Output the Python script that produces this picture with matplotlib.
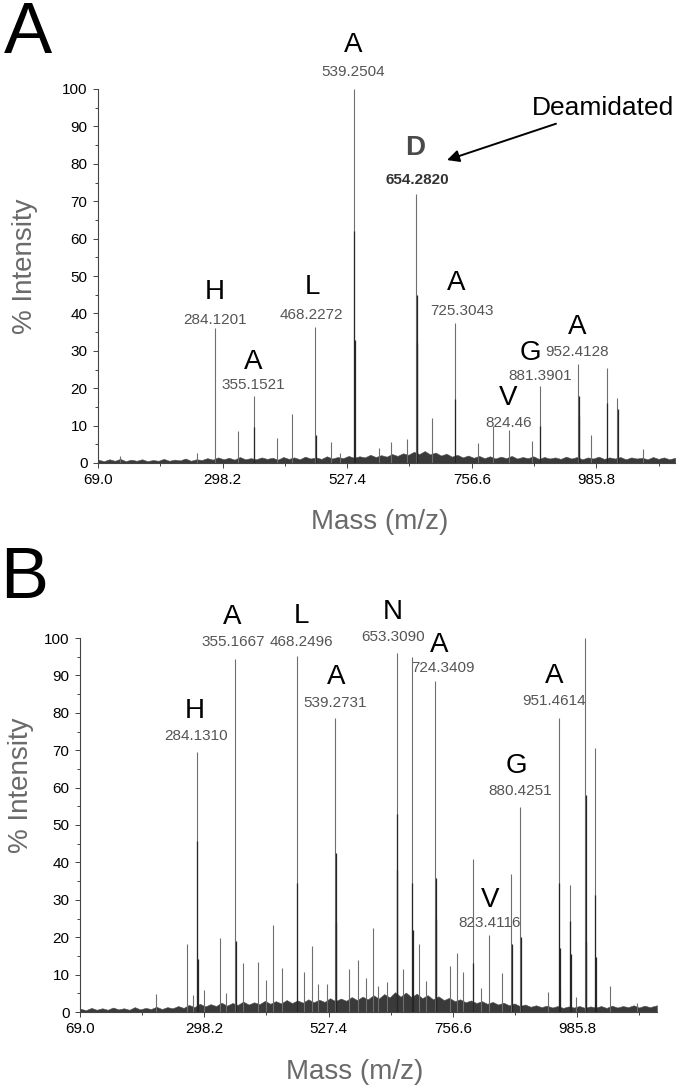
import matplotlib
matplotlib.use('Agg')
import matplotlib.pyplot as plt
from matplotlib.ticker import FixedLocator, MultipleLocator

# ---- panel A data (m/z, % intensity) ----
a_label_mz = [284.1201, 355.1521, 468.2272, 539.2504, 654.2820, 725.3043, 824.46, 881.3901, 952.4128]
a_label_int = [36, 18, 36.4, 100, 72, 37.4, 8.7, 20.5, 26.6]
a_label_res = ['H', 'A', 'L', 'A', 'D', 'A', 'V', 'G', 'A']
a_other_mz = [109, 252, 326.5, 398, 426, 497.6, 515, 585, 608, 637, 683, 768, 796, 867, 976, 1005, 1024, 1071]
a_other_int = [2.0, 2.6, 8.5, 6.8, 13, 5.6, 2.8, 4.0, 5.5, 6.5, 12, 5.3, 10, 5.8, 7.4, 25.5, 17.4, 3.8]
a_iso_mz = [356.2, 469.2, 540.3, 541.3, 655.3, 656.3, 726.3, 882.4, 953.4, 954.4, 1006, 1025]
a_iso_int = [9.5, 7.5, 62, 33, 45, 32, 17, 10, 18, 12.5, 16, 14.5]
a_noise_mz = [69, 80, 90, 100, 110, 120, 130, 140, 150, 160, 170, 180, 190, 200, 210, 220, 230, 240, 250,
              260, 270, 280, 290, 300, 310, 320, 330, 340, 350, 360, 370, 380, 390, 400, 410, 420, 430,
              440, 450, 460, 470, 480, 490, 500, 510, 520, 530, 540, 550, 560, 570, 580, 590, 600, 610,
              620, 630, 640, 650, 660, 670, 680, 690, 700, 710, 720, 730, 740, 750, 760, 770, 780, 790,
              800, 810, 820, 830, 840, 850, 860, 870, 880, 890, 900, 910, 920, 930, 940, 950, 960, 970,
              980, 990, 1000, 1010, 1020, 1030, 1040, 1050, 1060, 1070, 1080, 1090, 1100, 1110, 1120, 1131]
a_noise = [0.9, 0.5, 1.0, 0.6, 1.1, 0.5, 0.9, 0.6, 1.0, 0.5, 0.8, 0.6, 1.1, 0.6, 0.9, 0.7, 1.2, 0.6, 1.0,
           0.8, 1.3, 0.9, 1.5, 1.0, 1.4, 0.9, 1.6, 1.0, 1.3, 1.0, 1.5, 1.1, 1.4, 0.9, 1.6, 1.1, 1.5,
           1.0, 1.7, 1.2, 1.5, 1.1, 1.8, 1.2, 1.6, 1.3, 1.9, 1.4, 1.8, 1.5, 2.2, 1.6, 2.1, 1.7, 2.4,
           1.9, 2.6, 2.2, 3.0, 2.4, 3.2, 2.3, 2.8, 2.0, 2.5, 1.7, 2.2, 1.5, 2.0, 1.4, 1.9, 1.3, 1.8,
           1.2, 1.7, 1.3, 1.9, 1.2, 1.6, 1.3, 1.8, 1.1, 1.6, 1.2, 1.5, 1.1, 1.7, 1.2, 1.6, 1.0, 1.5,
           1.2, 1.7, 1.1, 1.5, 1.2, 1.6, 1.0, 1.5, 1.2, 1.4, 1.0, 1.6, 1.1, 1.5, 1.0, 1.4]

# ---- panel B data ----
b_label_mz = [284.1310, 355.1667, 468.2496, 539.2731, 653.3090, 724.3409, 823.4116, 880.4251, 951.4614]
b_label_int = [69.6, 94.3, 95.2, 78.5, 95.9, 88.6, 20.5, 54.8, 78.5]
b_label_res = ['H', 'A', 'L', 'A', 'N', 'A', 'V', 'G', 'A']
b_other_mz = [209, 266.3, 276.6, 298, 326.6, 337.7, 369.4, 397.9, 412.2, 425.6, 440.7, 482.7, 496.2,
              508.1, 523.9, 565.9, 581, 596, 609.5, 619, 635.6, 664.2, 680.8, 694.3, 707, 752.1, 764,
              775.9, 793.4, 807.6, 847.2, 863.9, 932, 954.2, 971.7, 984.3, 1000.2, 1018.4, 1046.2, 1097]
b_other_int = [4.7, 18.2, 4.5, 6, 19.7, 5, 13, 13.5, 8.6, 23.2, 11.8, 10.7, 17.7,
               7.6, 7.4, 11.6, 13.8, 9.2, 22.4, 7, 8, 11.4, 95, 18.2, 8.3, 12.2, 15.8,
               10.7, 40.8, 6.3, 10.5, 37, 5.4, 6.3, 34, 4, 100, 70.5, 7, 2.4]
b_iso_mz = [285.1, 286.1, 356.2, 469.2, 540.3, 541.3, 653.8, 654.3, 681.8, 682.8, 725.3, 726.3, 794.4,
            864.9, 881.4, 952.5, 953.5, 972.7, 973.7, 1001.2, 1002.2, 1019.4, 1020.4]
b_iso_int = [45.8, 14.3, 19, 34.5, 42.6, 24, 53, 38, 34.5, 22, 35.8, 24.8, 13,
             18.2, 20, 34.5, 17, 24.4, 15.6, 58, 18.7, 31.4, 14.7]
b_noise_mz = [69, 80, 90, 100, 110, 120, 130, 140, 150, 160, 170, 180, 190, 200, 210, 220, 230, 240, 250,
              260, 270, 280, 290, 300, 310, 320, 330, 340, 350, 360, 370, 380, 390, 400, 410, 420, 430,
              440, 450, 460, 470, 480, 490, 500, 510, 520, 530, 540, 550, 560, 570, 580, 590, 600, 610,
              620, 630, 640, 650, 660, 670, 680, 690, 700, 710, 720, 730, 740, 750, 760, 770, 780, 790,
              800, 810, 820, 830, 840, 850, 860, 870, 880, 890, 900, 910, 920, 930, 940, 950, 960, 970,
              980, 990, 1000, 1010, 1020, 1030, 1040, 1050, 1060, 1070, 1080, 1090, 1100, 1110, 1120, 1133]
b_noise = [0.9, 0.5, 1.1, 0.6, 1.0, 0.6, 1.2, 0.7, 1.0, 0.6, 1.3, 0.7, 1.1, 0.8, 1.4, 0.8, 1.3, 1.0, 1.6,
           1.1, 1.9, 1.3, 2.2, 1.5, 2.1, 1.6, 2.5, 1.7, 2.4, 1.9, 2.8, 2.0, 2.6, 2.1, 3.0, 2.2, 2.9,
           2.3, 3.2, 2.4, 3.1, 2.5, 3.4, 2.6, 3.3, 2.7, 3.7, 2.9, 3.6, 3.0, 4.0, 3.2, 4.1, 3.4, 4.5,
           3.6, 4.8, 3.9, 5.3, 4.1, 5.2, 4.0, 4.9, 3.7, 4.5, 3.4, 4.2, 3.2, 3.8, 2.9, 3.4, 2.6, 3.1,
           2.4, 2.9, 2.2, 2.7, 2.0, 2.5, 1.8, 2.3, 1.6, 2.0, 1.4, 1.8, 1.3, 1.7, 1.2, 1.6, 1.1, 1.5,
           1.2, 1.6, 1.1, 1.5, 1.2, 1.6, 1.1, 1.7, 1.2, 1.6, 1.3, 1.8, 1.2, 1.7, 1.3, 1.8]

x_ticks = [69.0, 298.2, 527.4, 756.6, 985.8]
narrow = ['Liberation Sans Narrow', 'Liberation Sans', 'DejaVu Sans']
sans = ['Liberation Sans', 'DejaVu Sans']

fig = plt.figure(figsize=(6.8, 10.89), dpi=100)


def draw_panel(ax, xmax, label_mz, label_int, other_mz, other_int, iso_mz, iso_int, noise_mz, noise):
    ax.fill_between(noise_mz, 0, noise, color='#3a3a3a', lw=0.4, edgecolor='#555555', zorder=1)
    ax.vlines(other_mz, 0, other_int, color='#6e6e6e', lw=0.8, zorder=2)
    ax.vlines(label_mz, 0, label_int, color='#6e6e6e', lw=0.8, zorder=2)
    ax.vlines(iso_mz, 0, iso_int, color='#262626', lw=0.9, zorder=3)
    ax.set_xlim(69, xmax)
    ax.set_ylim(0, 100)
    for s in ['top', 'right']:
        ax.spines[s].set_visible(False)
    for s in ['left', 'bottom']:
        ax.spines[s].set_color('#444444')
        ax.spines[s].set_linewidth(0.8)
    ax.xaxis.set_major_locator(FixedLocator(x_ticks))
    ax.xaxis.set_minor_locator(FixedLocator([69 + 114.6 * k for k in range(1, 10, 2)]))
    ax.set_xticklabels(['%.1f' % t for t in x_ticks])
    ax.yaxis.set_major_locator(MultipleLocator(10))
    ax.yaxis.set_minor_locator(MultipleLocator(5))
    ax.tick_params(which='both', direction='out', color='#444444', width=0.7)
    ax.tick_params(which='major', length=3.5, labelsize=11, pad=4)
    ax.tick_params(which='minor', length=2)
    for t in ax.get_xticklabels() + ax.get_yticklabels():
        t.set_family(narrow)


def peak_text(ax, letter, num, lx, ly, nx, ny, lcolor='black', ncolor='#555555', bold=False):
    ax.text(lx, ly, letter, ha='center', va='center', fontsize=20, color=lcolor,
            family=sans, fontweight='bold' if bold else 'normal', clip_on=False)
    ax.text(nx, ny, num, ha='center', va='center', fontsize=11, color=ncolor,
            family=narrow, fontweight='bold' if bold else 'normal', clip_on=False)


# ---------- panel A ----------
ax1 = fig.add_axes([98 / 680, 1 - 463 / 1089, 577 / 680, 374 / 1089])
draw_panel(ax1, 1130.4, a_label_mz, a_label_int, a_other_mz, a_other_int, a_iso_mz, a_iso_int,
           a_noise_mz, a_noise)

peak_text(ax1, 'H', '284.1201', 284, 45.7, 284, 38.2)
peak_text(ax1, 'A', '355.1521', 355, 27, 355, 20.9)
peak_text(ax1, 'L', '468.2272', 464, 47, 462, 39.6)
peak_text(ax1, 'A', '539.2504', 538, 111.8, 538, 104.5)
peak_text(ax1, 'D', '654.2820', 652, 84.2, 656, 75.7, lcolor='#4a4a4a', ncolor='#333333', bold=True)
peak_text(ax1, 'A', '725.3043', 727, 48.1, 738, 40.6)
peak_text(ax1, 'V', '824.46', 824, 17.4, 824, 10.7)
peak_text(ax1, 'G', '881.3901', 864, 29.4, 882, 23.3)
peak_text(ax1, 'A', '952.4128', 950, 36.4, 950, 29.7)

ax1.annotate('Deamidated', xy=(711, 81), xytext=(867, 94.9), fontsize=19, family=sans,
             va='center', ha='left', annotation_clip=False,
             arrowprops=dict(arrowstyle='-|>', color='black', lw=1.4, mutation_scale=18,
                             shrinkA=2, shrinkB=0))

# ---------- panel B ----------
ax2 = fig.add_axes([80 / 680, 1 - 1012 / 1089, 577 / 680, 374 / 1089])
draw_panel(ax2, 1133, b_label_mz, b_label_int, b_other_mz, b_other_int, b_iso_mz, b_iso_int,
           b_noise_mz, b_noise)

peak_text(ax2, 'H', '284.1310', 281, 80.5, 283, 73.8)
peak_text(ax2, 'A', '355.1667', 349, 105.6, 351, 98.9)
peak_text(ax2, 'L', '468.2496', 477, 106, 478, 98.9)
peak_text(ax2, 'A', '539.2731', 542, 89.5, 540, 82.6)
peak_text(ax2, 'N', '653.3090', 645, 107, 646, 100.3)
peak_text(ax2, 'A', '724.3409', 732, 98.1, 739, 92)
peak_text(ax2, 'V', '823.4116', 825, 30, 825, 23.9)
peak_text(ax2, 'G', '880.4251', 873, 65.7, 881, 59)
peak_text(ax2, 'A', '951.4614', 943, 89.9, 943, 83.2)

# ---------- labels ----------
fig.text(0.006, 1 - 53 / 1089, 'A', fontsize=52, family=sans, ha='left', va='baseline')
fig.text(0.0, 1 - 598 / 1089, 'B', fontsize=52, family=sans, ha='left', va='baseline')
fig.text(380 / 680, 1 - 522 / 1089, 'Mass (m/z)', fontsize=20, color='#6a6a6a', family=sans,
         ha='center', va='center')
fig.text(355 / 680, 1 - 1072 / 1089, 'Mass (m/z)', fontsize=20, color='#6a6a6a', family=sans,
         ha='center', va='center')
fig.text(25 / 680, 1 - 266 / 1089, '% Intensity', fontsize=20, color='#6a6a6a', family=sans,
         ha='center', va='center', rotation=90)
fig.text(21 / 680, 1 - 785 / 1089, '% Intensity', fontsize=20, color='#6a6a6a', family=sans,
         ha='center', va='center', rotation=90)

fig.savefig('out.png', dpi=100)
